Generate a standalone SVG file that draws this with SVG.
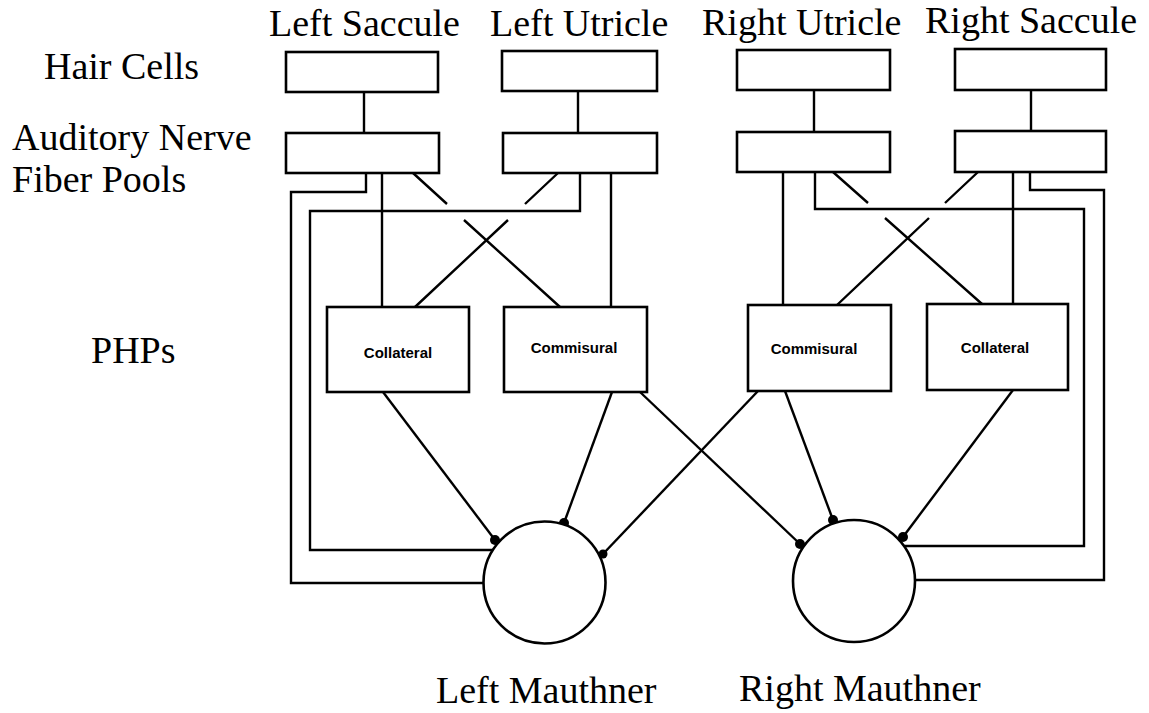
<svg xmlns="http://www.w3.org/2000/svg" width="1149" height="713" viewBox="0 0 1149 713">
<style>
.lbl{font-family:"Liberation Serif","Times New Roman",serif;font-size:38px;fill:#000}
.php{font-family:"Liberation Sans",Arial,sans-serif;font-size:15px;font-weight:bold;fill:#000;text-anchor:middle}
.box{fill:#fff;stroke:#000;stroke-width:2.6}
.ln{fill:none;stroke:#000;stroke-width:2.4;stroke-linejoin:miter;stroke-linecap:butt}
.cell{fill:#fff;stroke:#000;stroke-width:2.6}
.dot{fill:#000}
</style>
<rect width="1149" height="713" fill="#fff"/>

<g id="labels">
<text class="lbl" x="269" y="36">Left Saccule</text>
<text class="lbl" x="490" y="36">Left Utricle</text>
<text class="lbl" x="702" y="35">Right Utricle</text>
<text class="lbl" x="925" y="33">Right Saccule</text>
<text class="lbl" x="44" y="79">Hair Cells</text>
<text class="lbl" x="12" y="150">Auditory Nerve</text>
<text class="lbl" x="12" y="192">Fiber Pools</text>
<text class="lbl" x="91" y="363">PHPs</text>
<text class="lbl" x="436" y="703">Left Mauthner</text>
<text class="lbl" x="739" y="701">Right Mauthner</text>
</g>

<g id="connectors">
<!-- hair cells to fiber pools -->
<path class="ln" d="M364,92V133"/>
<path class="ln" d="M578,91V133"/>
<path class="ln" d="M814,90V132"/>
<path class="ln" d="M1031,90V131"/>
<!-- loops to Mauthner cells -->
<path class="ln" d="M366,173V192H291V583H483"/>
<path class="ln" d="M580,173V211H310V550H493"/>
<path class="ln" d="M815,172V209H1084V546H904"/>
<path class="ln" d="M1030,172V190H1104V580H915"/>
<!-- straight fibers to PHPs -->
<path class="ln" d="M382,173V307"/>
<path class="ln" d="M611,173V307"/>
<path class="ln" d="M783,172V305"/>
<path class="ln" d="M1013,172V304"/>
<!-- crossing fibers with gaps -->
<path class="ln" d="M413,173L447,204M464,220L560,307"/>
<path class="ln" d="M558,173L525,204M508,220L415,307"/>
<path class="ln" d="M833,172L868,203M885,218L982,304"/>
<path class="ln" d="M978,172L945,203M929,218L837,305"/>
<!-- PHP to Mauthner -->
<path class="ln" d="M383,392L495,540"/>
<path class="ln" d="M612,392L564,523"/>
<path class="ln" d="M640,392L800,544"/>
<path class="ln" d="M758,391L603,554"/>
<path class="ln" d="M785,391L833,520"/>
<path class="ln" d="M1013,390L903,537"/>
<circle class="dot" cx="495" cy="540" r="5"/>
<circle class="dot" cx="564" cy="523" r="5"/>
<circle class="dot" cx="603" cy="554" r="4.5"/>
<circle class="dot" cx="800" cy="544" r="5"/>
<circle class="dot" cx="833" cy="520" r="5"/>
<circle class="dot" cx="903" cy="537" r="5"/>
</g>

<g id="hair-left-saccule"><rect class="box" x="286" y="52" width="152" height="40"/></g>
<g id="hair-left-utricle"><rect class="box" x="502" y="51" width="155" height="40"/></g>
<g id="hair-right-utricle"><rect class="box" x="737" y="50" width="153" height="40"/></g>
<g id="hair-right-saccule"><rect class="box" x="955" y="49" width="151" height="41"/></g>

<g id="anf-left-saccule"><rect class="box" x="286" y="133" width="153" height="40"/></g>
<g id="anf-left-utricle"><rect class="box" x="503" y="133" width="154" height="40"/></g>
<g id="anf-right-utricle"><rect class="box" x="737" y="132" width="153" height="40"/></g>
<g id="anf-right-saccule"><rect class="box" x="955" y="131" width="151" height="41"/></g>

<g id="php-left-collateral"><rect class="box" x="327" y="307" width="142" height="85"/><text class="php" x="398" y="358">Collateral</text></g>
<g id="php-left-commisural"><rect class="box" x="504" y="307" width="143" height="85"/><text class="php" x="574" y="353">Commisural</text></g>
<g id="php-right-commisural"><rect class="box" x="748" y="305" width="143" height="86"/><text class="php" x="814" y="354">Commisural</text></g>
<g id="php-right-collateral"><rect class="box" x="927" y="304" width="141" height="86"/><text class="php" x="995" y="353">Collateral</text></g>

<g id="left-mauthner"><circle class="cell" cx="544.5" cy="582.5" r="61"/></g>
<g id="right-mauthner"><circle class="cell" cx="854" cy="581" r="61"/></g>
</svg>
